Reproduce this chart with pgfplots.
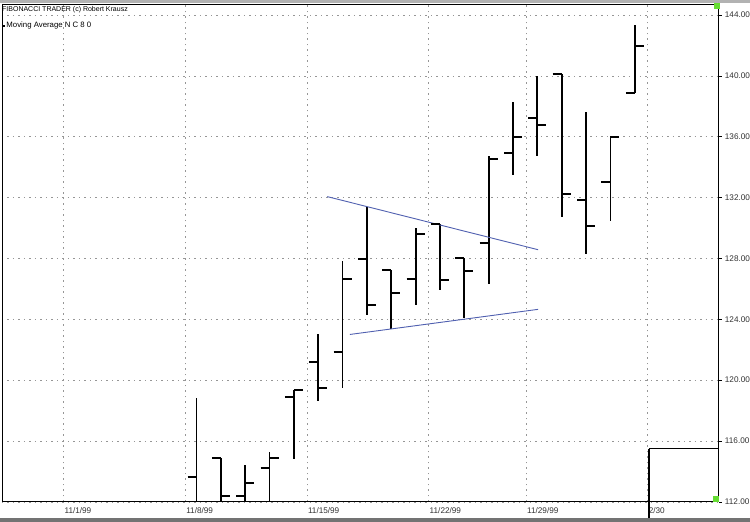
\documentclass[border=0pt]{standalone}
\usepackage{pgfplots}
\usepackage{pgfplotstable}
\pgfplotsset{compat=1.18}
\usepackage{fontspec}
\setmainfont{Liberation Sans}

\definecolor{trend}{RGB}{80,96,176}
\definecolor{gridc}{RGB}{150,150,150}
\definecolor{cursorgreen}{RGB}{102,221,51}

% open tick to the left, close tick to the right
\pgfdeclareplotmark{openmk}{\pgfpathmoveto{\pgfqpoint{-9bp}{0pt}}\pgfpathlineto{\pgfqpoint{0pt}{0pt}}\pgfusepathqstroke}
\pgfdeclareplotmark{closemk}{\pgfpathmoveto{\pgfqpoint{0pt}{0pt}}\pgfpathlineto{\pgfqpoint{9bp}{0pt}}\pgfusepathqstroke}

% x = trading day (11/1/99 = 0), o h l c
\pgfplotstableread{
x     o      h      l      c
5.47  113.6  118.85 112    nan
6.47  114.85 114.85 112    112.4
7.47  112.4  114.45 112    113.25
8.47  114.2  115.3  112    114.85
9.47  118.86 119.34 114.8  119.34
10.47 121.22 123.04 118.64 119.51
11.47 121.84 127.8  119.47 126.65
12.47 127.95 131.4  124.25 124.95
13.47 127.25 127.25 123.35 125.75
14.47 126.65 130.0  124.95 129.6
15.47 130.25 130.25 125.9  126.6
16.47 128.05 128.05 124.05 127.2
17.47 129.0  134.7  126.3  134.5
18.47 134.95 138.25 133.45 136.0
19.47 137.2  140.0  134.7  136.75
20.47 140.1  140.1  130.75 132.25
21.47 131.85 137.65 128.3  130.15
22.47 133.0  135.95 130.45 135.95
23.47 138.9  143.35 138.9  141.95
}\ohlc

\begin{document}
\begin{tikzpicture}
\fill[white] (0,0) rectangle (750bp,522bp);
\fill[black!30] (0,519bp) rectangle (750bp,522bp);
\fill[black!55] (0,0) rectangle (750bp,4bp);
\begin{axis}[
    at={(2bp,20bp)}, anchor=south west,
    scale only axis,
    width=717bp, height=498bp,
    xmin=-2.52, xmax=26.92,
    ymin=112, ymax=144.72,
    clip=false,
    unbounded coords=discard,
    axis line style={black, line width=0.8bp},
    xtick={0,5,10,15,19,24},
    xticklabels={11/1/99,11/8/99,11/15/99,11/22/99,11/29/99,2/30},
    xtick style={draw=none},
    x tick label style={anchor=north west, inner sep=0pt, yshift=-3bp, xshift=1bp},
    ytick={112,116,...,144},
    ytick pos=right,
    yticklabel pos=right,
    tick align=outside,
    major tick length=3bp,
    ytick style={black, line width=0.6bp},
    y tick label style={anchor=west, inner sep=0pt, xshift=3bp,
        /pgf/number format/fixed, /pgf/number format/fixed zerofill,
        /pgf/number format/precision=2},
    /pgf/number format/assume math mode=true,
    /pgf/number format/1000 sep={},
    tick label style={font=\fontsize{8.2bp}{9bp}\selectfont, text=black!80},
    grid=major,
    grid style={gridc, line width=0.6bp, dash pattern=on 1.5bp off 4bp},
    ]
    % high-low ranges
    \addplot[draw=none, mark=none, forget plot,
        error bars/.cd, y dir=both, y explicit, error mark=none,
        error bar style={black, line width=1.8bp}]
        table[x=x, y expr={(\thisrow{h}+\thisrow{l})/2},
              y error expr={(\thisrow{h}-\thisrow{l})/2}] {\ohlc};
    % opens and closes
    \addplot[only marks, mark=openmk, mark options={black, line width=2bp}]
        table[x=x, y=o] {\ohlc};
    \addplot[only marks, mark=closemk, mark options={black, line width=2bp}]
        table[x=x, y=c] {\ohlc};
    % triangle trend lines
    \addplot[trend, line width=0.9bp] coordinates {(10.84,132.06) (19.5,128.57)};
    \addplot[trend, line width=0.9bp] coordinates {(11.77,123.0) (19.5,124.65)};
    % cursor
    \addplot[black, line width=2bp] coordinates {(24.06,110.95) (24.06,115.5)};
    \addplot[black, line width=1.4bp] coordinates {(24.06,115.5) (26.92,115.5)};
    \addplot[only marks, mark=square*, mark size=2.5bp, cursorgreen]
        coordinates {(26.82,144.59) (26.78,112.18)};
\end{axis}
\node[anchor=west, inner sep=0pt, font=\fontsize{7bp}{8bp}\selectfont]
    at (2bp,512.5bp) {FIBONACCI TRADER (c) Robert Krausz};
\node[anchor=west, inner sep=0pt, font=\fontsize{7.8bp}{9bp}\selectfont]
    at (3bp,496bp) {\rule[1.5bp]{2bp}{2bp}\,Moving Average N C 8 0};
\end{tikzpicture}
\end{document}
